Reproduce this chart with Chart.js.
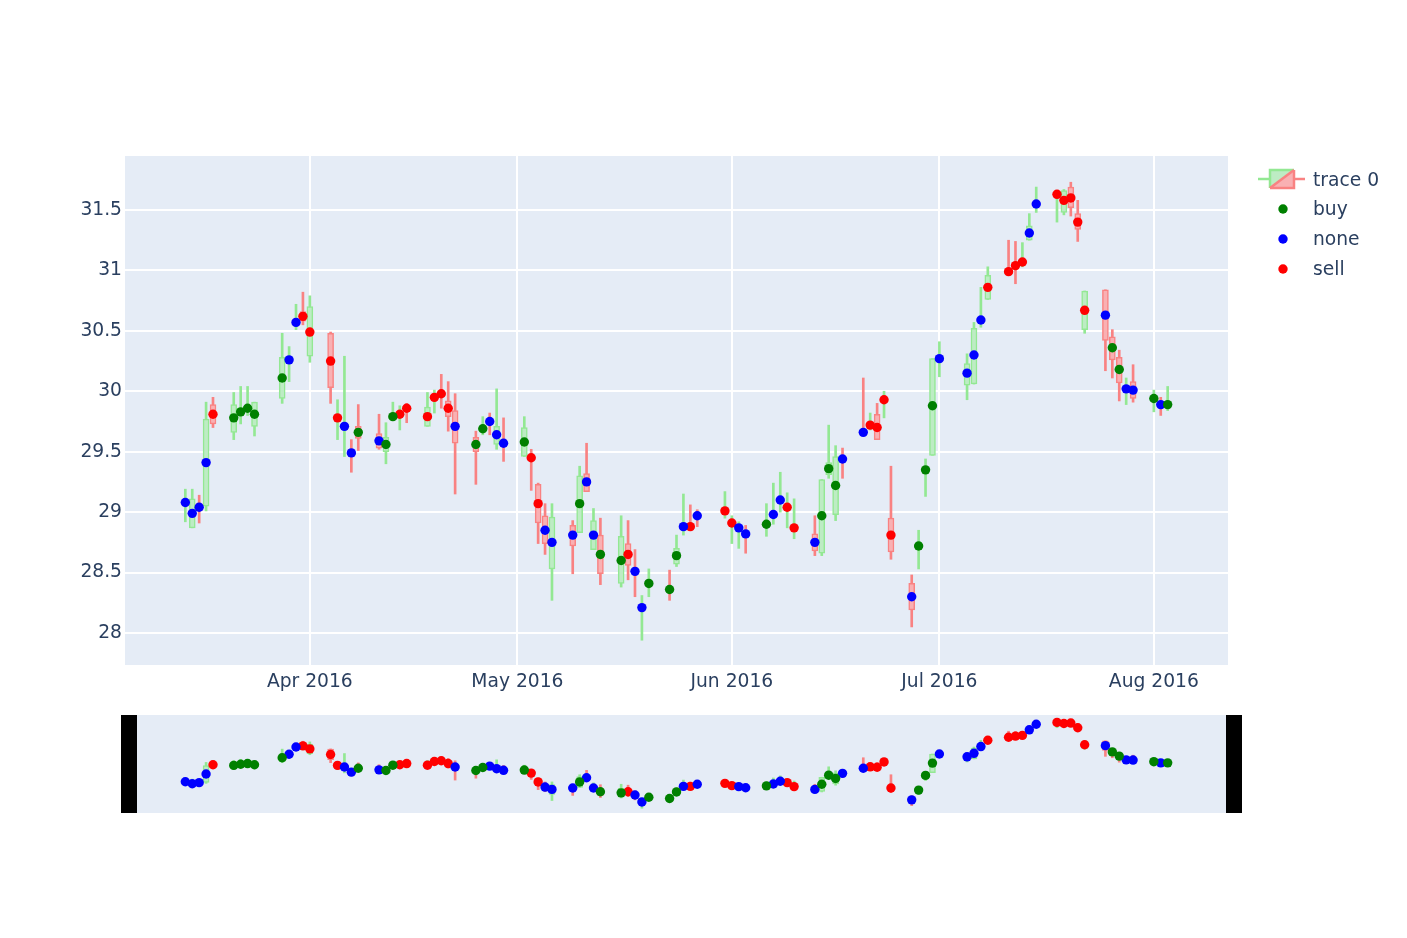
<!DOCTYPE html>
<html>
<head>
<meta charset="utf-8">
<script src="https://cdn.jsdelivr.net/npm/chart.js@4.4.1/dist/chart.umd.min.js"></script>
<style>
  body { margin: 0; background: #fff; }
  #wrap { position: relative; width: 1407px; height: 938px; background: #fff; }
  .box { position: absolute; }
  .handle { position: absolute; background: #000; }
</style>
</head>
<body>
<div id="wrap">
  <div class="box" style="left:0;top:0;width:1407px;height:700px"><canvas id="main"></canvas></div>
  <div class="box" style="left:125px;top:715px;width:1103px;height:98px"><canvas id="slider"></canvas></div>
  <div class="handle" style="left:121px;top:715px;width:16px;height:98px"></div>
  <div class="handle" style="left:1226px;top:715px;width:16px;height:98px"></div>
</div>
<script>
// trading days
const dates = [
  '2016-03-14','2016-03-15','2016-03-16','2016-03-17','2016-03-18',
  '2016-03-21','2016-03-22','2016-03-23','2016-03-24',
  '2016-03-28','2016-03-29','2016-03-30','2016-03-31','2016-04-01',
  '2016-04-04','2016-04-05','2016-04-06','2016-04-07','2016-04-08',
  '2016-04-11','2016-04-12','2016-04-13','2016-04-14','2016-04-15',
  '2016-04-18','2016-04-19','2016-04-20','2016-04-21','2016-04-22',
  '2016-04-25','2016-04-26','2016-04-27','2016-04-28','2016-04-29',
  '2016-05-02','2016-05-03','2016-05-04','2016-05-05','2016-05-06',
  '2016-05-09','2016-05-10','2016-05-11','2016-05-12','2016-05-13',
  '2016-05-16','2016-05-17','2016-05-18','2016-05-19','2016-05-20',
  '2016-05-23','2016-05-24','2016-05-25','2016-05-26','2016-05-27',
  '2016-05-31','2016-06-01','2016-06-02','2016-06-03',
  '2016-06-06','2016-06-07','2016-06-08','2016-06-09','2016-06-10',
  '2016-06-13','2016-06-14','2016-06-15','2016-06-16','2016-06-17',
  '2016-06-20','2016-06-21','2016-06-22','2016-06-23','2016-06-24',
  '2016-06-27','2016-06-28','2016-06-29','2016-06-30','2016-07-01',
  '2016-07-05','2016-07-06','2016-07-07','2016-07-08',
  '2016-07-11','2016-07-12','2016-07-13','2016-07-14','2016-07-15',
  '2016-07-18','2016-07-19','2016-07-20','2016-07-21','2016-07-22',
  '2016-07-25','2016-07-26','2016-07-27','2016-07-28','2016-07-29',
  '2016-08-01','2016-08-02','2016-08-03'
];
const opens = [
  29.05,28.87,29.07,29.05,29.89, 29.66,29.80,29.84,29.71, 29.94,30.23,30.55,30.66,30.29,
  30.48,29.75,29.68,29.52,29.71, 29.65,29.50,29.77,29.79,29.88, 29.71,29.93,30.00,29.92,29.84,
  29.62,29.66,29.77,29.56,29.60, 29.46,29.47,29.23,28.97,28.53, 28.89,28.83,29.32,28.69,28.81,
  28.41,28.74,28.54,28.19,28.39, 28.38,28.57,28.86,28.90,28.99, 28.99,28.89,28.85,28.84,
  28.88,28.96,29.08,29.02,28.85, 28.82,28.66,29.31,28.98,29.46, 29.68,29.70,29.81,29.91,28.95,
  28.41,28.69,29.33,29.47,30.25, 30.05,30.06,30.57,30.76, 31.01,31.06,31.05,31.25,31.53,
  31.61,31.48,31.69,31.47,30.51, 30.84,30.45,30.28,30.00,30.08, 29.92,29.91,29.87
];
const highs = [
  29.19,29.19,29.14,29.91,29.95, 29.99,30.04,30.04,29.91, 30.48,30.37,30.72,30.82,30.79,
  30.49,29.93,30.29,29.60,29.89, 29.81,29.74,29.91,29.88,29.90, 29.99,30.01,30.14,30.08,29.98,
  29.67,29.79,29.82,30.02,29.78, 29.79,29.52,29.24,29.07,29.07, 28.93,29.38,29.57,29.03,28.95,
  28.97,28.93,28.69,28.31,28.53, 28.52,28.81,29.15,29.06,29.02, 29.17,28.97,28.92,28.89,
  29.07,29.24,29.33,29.16,29.11, 28.97,29.27,29.72,29.55,29.53, 30.11,29.82,29.90,30.00,29.38,
  28.48,28.85,29.44,30.27,30.41, 30.31,30.57,30.86,31.03, 31.25,31.24,31.23,31.47,31.69,
  31.65,31.67,31.73,31.58,30.83, 30.84,30.51,30.34,30.11,30.22, 30.01,29.95,30.04
];
const lows = [
  28.92,28.87,28.91,29.01,29.70, 29.60,29.73,29.80,29.63, 29.90,30.08,30.51,30.55,30.24,
  29.90,29.60,29.46,29.33,29.51, 29.52,29.40,29.76,29.68,29.74, 29.71,29.82,29.86,29.67,29.15,
  29.23,29.64,29.64,29.52,29.42, 29.46,29.18,28.74,28.65,28.27, 28.49,28.83,29.17,28.69,28.40,
  28.38,28.44,28.30,27.94,28.30, 28.27,28.55,28.81,28.85,28.88, 28.95,28.74,28.70,28.66,
  28.80,28.90,29.00,28.87,28.78, 28.64,28.64,29.28,28.93,29.28, 29.64,29.68,29.60,29.78,28.61,
  28.05,28.53,29.13,29.47,30.12, 29.93,30.06,30.53,30.76, 30.97,30.89,31.03,31.25,31.48,
  31.40,31.46,31.45,31.24,30.48, 30.17,30.11,29.92,29.89,29.91, 29.83,29.80,29.84
];
const closes = [
  29.11,29.11,29.01,29.77,29.73, 29.89,29.86,29.88,29.91, 30.28,30.29,30.59,30.58,30.70,
  30.03,29.80,29.73,29.46,29.61, 29.53,29.62,29.81,29.83,29.84, 29.87,29.97,29.96,29.79,29.57,
  29.50,29.72,29.73,29.71,29.54, 29.70,29.43,28.91,28.74,28.96, 28.72,29.30,29.17,28.93,28.49,
  28.80,28.56,28.48,28.23,28.43, 28.34,28.70,28.90,28.86,28.95, 29.03,28.93,28.89,28.80,
  28.92,29.00,29.12,29.06,28.89, 28.68,29.27,29.41,29.46,29.42, 29.64,29.74,29.60,29.95,28.67,
  28.19,28.75,29.37,30.27,30.29, 30.23,30.52,30.61,30.96, 30.97,31.02,31.09,31.37,31.57,
  31.65,31.66,31.52,31.34,30.83, 30.42,30.26,30.07,30.04,29.94, 29.96,29.87,29.91
];
const signals = [
  'none','none','none','none','sell', 'buy','buy','buy','buy', 'buy','none','none','sell','sell',
  'sell','sell','none','none','buy', 'none','buy','buy','sell','sell', 'sell','sell','sell','sell','none',
  'buy','buy','none','none','none', 'buy','sell','sell','none','none', 'none','buy','none','none','buy',
  'buy','sell','none','none','buy', 'buy','buy','none','sell','none', 'sell','sell','none','none',
  'buy','none','none','sell','sell', 'none','buy','buy','buy','none', 'none','sell','sell','sell','sell',
  'none','buy','buy','buy','none', 'none','none','none','sell', 'sell','sell','sell','none','none',
  'sell','sell','sell','sell','sell', 'none','buy','buy','none','none', 'buy','none','buy'
];
const signalPrices = [
  29.08,28.99,29.04,29.41,29.81, 29.78,29.83,29.86,29.81, 30.11,30.26,30.57,30.62,30.49,
  30.25,29.78,29.71,29.49,29.66, 29.59,29.56,29.79,29.81,29.86, 29.79,29.95,29.98,29.86,29.71,
  29.56,29.69,29.75,29.64,29.57, 29.58,29.45,29.07,28.85,28.75, 28.81,29.07,29.25,28.81,28.65,
  28.60,28.65,28.51,28.21,28.41, 28.36,28.64,28.88,28.88,28.97, 29.01,28.91,28.87,28.82,
  28.90,28.98,29.10,29.04,28.87, 28.75,28.97,29.36,29.22,29.44, 29.66,29.72,29.70,29.93,28.81,
  28.30,28.72,29.35,29.88,30.27, 30.15,30.30,30.59,30.86, 30.99,31.04,31.07,31.31,31.55,
  31.63,31.58,31.60,31.40,30.67, 30.63,30.36,30.18,30.02,30.01, 29.94,29.89,29.89
];
const signalNames = ['buy', 'none', 'sell'];
const signalColors = { buy: '#008000', none: '#0000ff', sell: '#ff0000' };

const xTickDates = ['2016-04-01', '2016-05-01', '2016-06-01', '2016-07-01', '2016-08-01'];
const xTickLabels = ['Apr 2016', 'May 2016', 'Jun 2016', 'Jul 2016', 'Aug 2016'];
const yTickValues = [28, 28.5, 29, 29.5, 30, 30.5, 31, 31.5];

const dayNum = d => Date.parse(d) / 864e5;
const days = dates.map(dayNum);
const up = opens.map((o, i) => closes[i] >= o);

const UP_LINE = '#93e893', UP_FILL = '#bdecc4';
const DN_LINE = '#f98282', DN_FILL = '#f9b0b3';
const TEXT = '#2a3f5f';
const BG = '#e5ecf6';
const FONT = '"DejaVu Sans", "Open Sans", sans-serif';

Chart.defaults.font.family = FONT;
Chart.defaults.font.size = 18.7;
Chart.defaults.color = TEXT;

function makeDatasets(radius) {
  const wick = {
    type: 'bar', label: 'wick', order: 2, grouped: false,
    data: days.map((x, i) => ({ x, y: [lows[i], highs[i]] })),
    barThickness: 2,
    backgroundColor: c => up[c.dataIndex] ? UP_LINE : DN_LINE,
    borderWidth: 0
  };
  const body = {
    type: 'bar', label: 'body', order: 1, grouped: false,
    data: days.map((x, i) => ({ x, y: [opens[i], closes[i]] })),
    barThickness: 6,
    backgroundColor: c => up[c.dataIndex] ? UP_FILL : DN_FILL,
    borderColor: c => up[c.dataIndex] ? UP_LINE : DN_LINE,
    borderWidth: 1.5,
    borderSkipped: false
  };
  const points = signalNames.map(name => ({
    type: 'scatter', label: name, order: 0,
    data: days.map((x, i) => ({ x, y: signalPrices[i], s: signals[i] })).filter(p => p.s === name),
    pointRadius: radius,
    pointBorderWidth: 0,
    backgroundColor: signalColors[name],
    borderColor: signalColors[name]
  }));
  return [...points, body, wick];
}

const xMin = days[0] - 8.72;
const xMax = days[days.length - 1] + 8.72;
const yMin = 27.735, yMax = 31.947;

const plotBg = {
  id: 'plotBg',
  beforeDraw(chart) {
    const { ctx, chartArea: a } = chart;
    ctx.save();
    ctx.fillStyle = BG;
    ctx.fillRect(a.left, a.top, a.right - a.left, a.bottom - a.top);
    ctx.restore();
  }
};

const legendBox = {
  id: 'legendBox',
  afterDraw(chart) {
    const ctx = chart.ctx;
    ctx.save();
    // candlestick entry
    ctx.lineWidth = 2.5;
    ctx.strokeStyle = UP_LINE;
    ctx.beginPath(); ctx.moveTo(1258, 179); ctx.lineTo(1270, 179); ctx.stroke();
    ctx.strokeStyle = DN_LINE;
    ctx.beginPath(); ctx.moveTo(1294, 179); ctx.lineTo(1305, 179); ctx.stroke();
    ctx.fillStyle = UP_FILL;
    ctx.beginPath(); ctx.moveTo(1270, 170); ctx.lineTo(1294, 170); ctx.lineTo(1270, 188); ctx.closePath(); ctx.fill();
    ctx.fillStyle = DN_FILL;
    ctx.beginPath(); ctx.moveTo(1294, 170); ctx.lineTo(1294, 188); ctx.lineTo(1270, 188); ctx.closePath(); ctx.fill();
    ctx.strokeStyle = UP_LINE;
    ctx.beginPath(); ctx.moveTo(1270, 188); ctx.lineTo(1270, 170); ctx.lineTo(1294, 170); ctx.stroke();
    ctx.strokeStyle = DN_LINE;
    ctx.beginPath(); ctx.moveTo(1294, 170); ctx.lineTo(1294, 188); ctx.lineTo(1270, 188); ctx.stroke();
    ctx.beginPath(); ctx.moveTo(1270, 188); ctx.lineTo(1294, 170); ctx.stroke();

    ctx.font = '18.7px ' + FONT;
    ctx.fillStyle = TEXT;
    ctx.textBaseline = 'middle';
    ctx.fillText('trace 0', 1313, 181);
    signalNames.forEach((name, i) => {
      const y = 209 + i * 30;
      ctx.fillStyle = signalColors[name];
      ctx.beginPath(); ctx.arc(1283, y, 4.7, 0, Math.PI * 2); ctx.fill();
      ctx.fillStyle = TEXT;
      ctx.fillText(name, 1313, y + 1);
    });
    ctx.restore();
  }
};

new Chart(document.getElementById('main'), {
  type: 'bar',
  data: { datasets: makeDatasets(4.7) },
  options: {
    responsive: true,
    maintainAspectRatio: false,
    animation: false,
    layout: { autoPadding: false, padding: { left: 0, top: 156, right: 179, bottom: 0 } },
    plugins: { legend: { display: false }, tooltip: { enabled: false } },
    scales: {
      x: {
        type: 'linear', offset: false, min: xMin, max: xMax,
        afterFit: s => { s.height = 35; },
        afterBuildTicks: s => { s.ticks = xTickDates.map(d => ({ value: dayNum(d) })); },
        grid: { color: '#ffffff', lineWidth: 2, drawTicks: false, offset: false },
        border: { display: false },
        ticks: { autoSkip: false, maxRotation: 0, padding: 6, callback: (v, i) => xTickLabels[i] }
      },
      y: {
        min: yMin, max: yMax,
        afterFit: s => { s.width = 125; },
        afterBuildTicks: s => { s.ticks = yTickValues.map(v => ({ value: v })); },
        grid: { color: '#ffffff', lineWidth: 2, drawTicks: false },
        border: { display: false },
        ticks: { padding: 3, callback: v => String(v) }
      }
    }
  },
  plugins: [plotBg, legendBox]
});

new Chart(document.getElementById('slider'), {
  type: 'bar',
  data: { datasets: makeDatasets(4.7) },
  options: {
    responsive: true,
    maintainAspectRatio: false,
    animation: false,
    layout: { autoPadding: false, padding: 0 },
    plugins: { legend: { display: false }, tooltip: { enabled: false } },
    scales: {
      x: { type: 'linear', offset: false, min: xMin, max: xMax, display: false },
      y: { min: yMin, max: yMax, display: false }
    }
  },
  plugins: [plotBg]
});
</script>
</body>
</html>
